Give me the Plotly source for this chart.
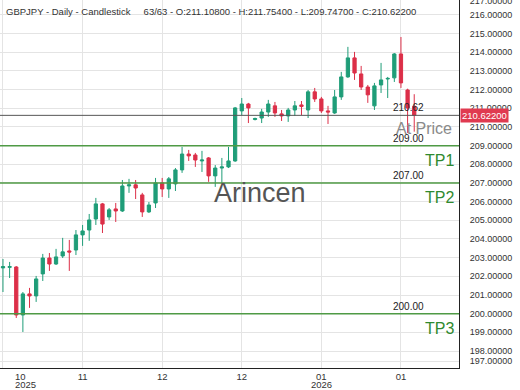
import plotly.graph_objects as go

# ---- data ----
bar_index = list(range(63))
opens = [202.45, 202.48, 202.50, 199.93, 201.06, 200.95, 202.13, 202.98, 202.66, 203.09,
         203.36, 203.41, 204.22, 204.48, 205.07, 205.88, 205.18, 205.61, 205.50, 206.84,
         206.90, 206.36, 205.45, 205.93, 207.00, 206.68, 206.95, 207.70, 208.55, 208.50,
         208.18, 208.34, 207.38, 207.80, 207.86, 208.18, 210.86, 211.23, 210.40, 210.48,
         210.80, 211.13, 210.70, 210.59, 210.91, 211.18, 210.91, 211.88, 211.50, 210.86,
         210.75, 211.61, 212.68, 213.70, 212.84, 212.14, 211.13, 212.25, 212.57, 212.63,
         213.91, 211.98, 211.108]
highs = [202.93, 202.77, 202.55, 201.16, 201.38, 202.02, 203.20, 203.25, 203.47, 204.06,
         203.95, 204.48, 204.75, 205.34, 206.20, 205.93, 205.66, 205.93, 207.16, 207.22,
         207.16, 206.47, 205.98, 207.27, 207.27, 207.32, 207.80, 208.93, 208.77, 208.61,
         208.72, 208.39, 207.96, 208.34, 208.93, 211.07, 211.55, 211.29, 210.50, 210.97,
         211.45, 211.34, 210.91, 211.02, 211.39, 211.39, 211.98, 212.09, 211.61, 211.13,
         211.98, 212.95, 214.29, 214.02, 213.27, 212.25, 212.36, 213.43, 212.68, 213.96,
         214.82, 212.05, 211.754]
lows = [201.16, 201.91, 199.77, 199.02, 200.31, 200.63, 201.75, 202.29, 202.61, 202.98,
        202.29, 203.14, 203.63, 203.90, 204.75, 204.32, 205.02, 204.91, 205.45, 206.47,
        206.14, 205.18, 205.39, 205.66, 206.25, 206.20, 206.57, 207.54, 208.18, 207.86,
        207.59, 207.06, 206.79, 207.00, 207.80, 208.13, 210.64, 210.21, 210.35, 210.21,
        210.54, 210.54, 210.32, 210.27, 210.59, 210.64, 210.48, 211.34, 210.75, 210.16,
        210.70, 211.45, 212.63, 212.52, 211.98, 211.29, 210.91, 211.82, 211.55, 212.41,
        212.09, 209.68, 209.747]
closes = [202.52, 202.52, 199.93, 201.06, 200.95, 201.86, 202.98, 202.66, 203.04, 203.31,
          203.30, 204.22, 204.43, 205.02, 205.88, 204.80, 205.56, 205.50, 206.84, 206.90,
          206.73, 205.45, 205.82, 207.00, 206.68, 207.22, 207.70, 208.55, 208.45, 208.23,
          208.23, 207.38, 207.80, 207.86, 208.18, 211.02, 211.23, 211.02, 210.45, 210.80,
          211.23, 210.75, 210.59, 210.91, 211.13, 211.10, 211.88, 211.50, 210.86, 210.80,
          211.61, 212.68, 213.70, 212.89, 212.14, 211.72, 212.20, 212.52, 212.60, 213.91,
          212.36, 211.02, 210.622]

x_tick_index = [0, 12, 24, 36, 48, 60]
x_tick_text = ["", "11", "12", "12", "01", "01"]
y_tick_values = [197.45, 198, 199, 200, 201, 202, 203, 204, 205, 206, 207, 208, 209,
                 210, 211, 212, 213, 214, 215, 216, 216.77]
y_tick_text = ["197.00000"] + ["%.5f" % v for v in range(198, 217)] + ["217.00000"]

current_price = 210.622
tp_levels = [209.0, 207.0, 200.0]
tp_names = ["TP1", "TP2", "TP3"]
header = ("GBPJPY - Daily - Candlestick" + "\u00a0" * 5 +
          "63/63 - O:211.10800 - H:211.75400 - L:209.74700 - C:210.62200")

UP = "#1f9d78"
DOWN = "#dc2f48"
TPC = "#4f9a45"
FONT = "Liberation Sans, Arial, sans-serif"

fig = go.Figure()
fig.add_trace(go.Candlestick(
    x=bar_index, open=opens, high=highs, low=lows, close=closes,
    increasing=dict(line=dict(color=UP, width=1), fillcolor=UP),
    decreasing=dict(line=dict(color=DOWN, width=1), fillcolor=DOWN),
    showlegend=False, hoverinfo="skip",
))

shapes = []
for lv in tp_levels:
    shapes.append(dict(type="line", xref="paper", x0=0, x1=1, yref="y", y0=lv, y1=lv,
                       line=dict(color=TPC, width=1.5)))
shapes.append(dict(type="line", xref="paper", x0=0, x1=1, yref="y", y0=current_price,
                   y1=current_price, line=dict(color="#555555", width=1)))

ann = []
ann.append(dict(text=header, xref="paper", yref="paper", x=0, y=1, xanchor="left",
                yanchor="top", xshift=4, yshift=-4, showarrow=False,
                font=dict(family=FONT, size=9.5, color="#333333")))
# level labels
for lv in [current_price] + tp_levels:
    ann.append(dict(text="%.2f" % lv, xref="paper", yref="y", x=426 / 459, y=lv,
                    xanchor="right", yanchor="bottom", yshift=0, showarrow=False,
                    font=dict(family=FONT, size=10, color="#222222")))
for lv, nm in zip(tp_levels, tp_names):
    ann.append(dict(text=nm, xref="paper", yref="y", x=456 / 459, y=lv,
                    xanchor="right", yanchor="top", yshift=-4, showarrow=False,
                    font=dict(family=FONT, size=16, color="#2f8a2f")))
ann.append(dict(text="At Price", xref="paper", yref="y", x=454 / 459, y=current_price,
                xanchor="right", yanchor="top", yshift=-3, showarrow=False,
                font=dict(family=FONT, size=16, color="#8a8a8a")))
ann.append(dict(text="Arincen", xref="paper", yref="paper", x=260 / 459, y=1 - 193 / 368,
                xanchor="center", yanchor="middle", showarrow=False,
                font=dict(family=FONT, size=27, color="#555555")))
# price tag
ann.append(dict(text="%.5f" % current_price, xref="paper", yref="y", x=1, y=current_price,
                xanchor="left", yanchor="middle", xshift=1, showarrow=False,
                bgcolor="#e03a50", borderpad=1,
                font=dict(family=FONT, size=9.5, color="#ffffff")))
# x-axis first label and years
ann.append(dict(text="10", xref="paper", yref="paper", x=13 / 459, y=0, yanchor="top",
                yshift=-1, showarrow=False, font=dict(family=FONT, size=9.5, color="#333333")))
ann.append(dict(text="2025", xref="paper", yref="paper", x=13 / 459, y=0, yanchor="top",
                yshift=-9, showarrow=False, font=dict(family=FONT, size=9.5, color="#333333")))
ann.append(dict(text="2026", xref="x", yref="paper", x=48, y=0, yanchor="top",
                yshift=-9, showarrow=False, font=dict(family=FONT, size=9.5, color="#333333")))

fig.update_layout(
    width=520, height=390,
    margin=dict(l=0, r=61, t=0, b=22),
    paper_bgcolor="white", plot_bgcolor="white",
    shapes=shapes, annotations=ann,
    xaxis=dict(range=[-0.45, 68.75], rangeslider=dict(visible=False),
               tickvals=x_tick_index, ticktext=x_tick_text, automargin=False,
               showgrid=True, gridcolor="#e4e4e4", gridwidth=1,
               showline=True, linecolor="#222222", linewidth=1, mirror=False,
               ticks="", zeroline=False,
               tickfont=dict(family=FONT, size=9.5, color="#333333")),
    yaxis=dict(side="right", range=[197.09, 216.80],
               tickvals=y_tick_values, ticktext=y_tick_text, automargin=False,
               showgrid=True, gridcolor="#e4e4e4", gridwidth=1,
               showline=True, linecolor="#222222", linewidth=1,
               ticks="", zeroline=False, ticklabelstandoff=8,
               ticklabeloverflow="allow",
               tickfont=dict(family=FONT, size=9, color="#333333")),
)

fig.write_html("out.html", config={"displayModeBar": False},
               post_script="document.body.style.margin='0';document.body.style.padding='0';")
